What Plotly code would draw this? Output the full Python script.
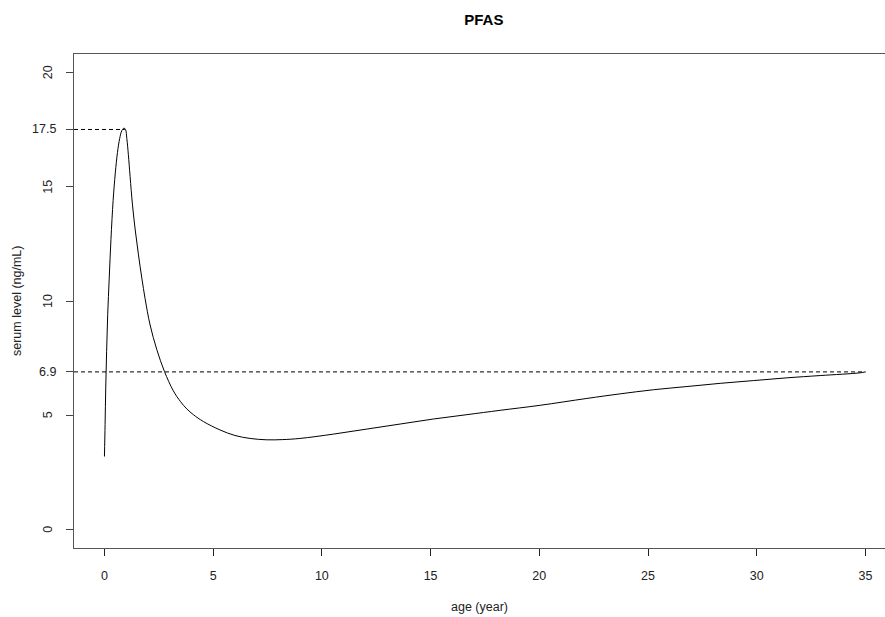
import plotly.graph_objects as go

# Serum PFAS level by age (years)
age = [0.00, 0.03, 0.06, 0.10, 0.15, 0.22, 0.30, 0.40, 0.50, 0.60, 0.70, 0.80,
       0.90, 0.97, 1.03, 1.10, 1.18, 1.29, 1.41, 1.56, 1.72, 1.87, 2.10, 2.41,
       2.76, 3.17, 3.50, 3.79, 4.09, 4.55, 5.32, 6.00, 6.70, 7.47, 8.20, 8.99,
       10.53, 12.07, 13.60, 15.13, 16.67, 18.20, 20.04, 22.19, 23.72, 25.25,
       26.79, 28.32, 29.85, 31.39, 32.92, 34.76, 35.00]
serum = [3.2, 4.6, 6.2, 7.8, 9.4, 11.0, 12.7, 14.4, 15.6, 16.5, 17.1, 17.45,
         17.56, 17.5, 17.1, 16.4, 15.44, 14.2, 13.15, 12.05, 11.0, 10.1, 8.95, 7.87,
         6.92, 6.07, 5.6, 5.28, 5.03, 4.73, 4.36, 4.12, 3.99, 3.93, 3.94, 3.99,
         4.18, 4.40, 4.62, 4.84, 5.03, 5.22, 5.44, 5.74, 5.94, 6.12,
         6.26, 6.40, 6.52, 6.64, 6.74, 6.86, 6.9]

peak_age = 0.94
peak_level = 17.5
final_age = 35.0
final_level = 6.9

x_ticks = [0, 5, 10, 15, 20, 25, 30, 35]
y_ticks = [0, 5, 10, 15, 20]
y_marks = [peak_level, final_level]

FONT = "Liberation Sans, Arial, sans-serif"
x_min = -1.4

fig = go.Figure()

# reference levels
fig.add_trace(go.Scatter(x=[x_min, peak_age], y=[peak_level, peak_level], mode="lines",
                         line=dict(color="black", width=1, dash="4px,3px"),
                         hoverinfo="skip", showlegend=False))
fig.add_trace(go.Scatter(x=[x_min, final_age], y=[final_level, final_level], mode="lines",
                         line=dict(color="black", width=1, dash="4px,3px"),
                         hoverinfo="skip", showlegend=False))

# serum curve
fig.add_trace(go.Scatter(x=age, y=serum, mode="lines",
                         line=dict(color="black", width=1, shape="spline", smoothing=1.0),
                         showlegend=False))

annotations = []
for v in y_ticks:
    annotations.append(dict(x=0, xref="paper", y=v, yref="y", text=str(v),
                            showarrow=False, textangle=-90, xanchor="center",
                            yanchor="middle", xshift=-26,
                            font=dict(family=FONT, size=12.5, color="#222")))
for v in y_marks:
    annotations.append(dict(x=0, xref="paper", y=v, yref="y", text=str(v),
                            showarrow=False, xanchor="right", yanchor="middle",
                            xshift=-16, font=dict(family=FONT, size=12.5, color="#222")))
annotations.append(dict(x=0, xref="paper", y=0.5, yref="paper", text="serum level (ng/mL)",
                        showarrow=False, textangle=-90, xanchor="center", yanchor="middle",
                        xshift=-57, font=dict(family=FONT, size=12.5, color="#222")))
annotations.append(dict(x=0.5, xref="paper", y=0, yref="paper", text="age (year)",
                        showarrow=False, xanchor="center", yanchor="middle",
                        yshift=-59, font=dict(family=FONT, size=12.5, color="#222")))

fig.update_layout(
    width=885, height=617,
    margin=dict(l=74, r=0, t=54, b=69),
    paper_bgcolor="white", plot_bgcolor="white",
    title=dict(text="<b>PFAS</b>", x=0.5467, xanchor="center", y=1 - 20 / 617, yanchor="middle",
               font=dict(family=FONT, size=15, color="black")),
    xaxis=dict(range=[x_min, 35.9], tickvals=x_ticks, ticktext=[str(t) for t in x_ticks],
               showgrid=False, zeroline=False, showline=True, mirror=True,
               linecolor="#555", linewidth=1, ticks="outside", ticklen=7,
               tickcolor="#222", tickwidth=1, ticklabelstandoff=9,
               tickfont=dict(family=FONT, size=12.5, color="#222")),
    yaxis=dict(range=[-0.8, 20.8], tickvals=y_ticks + y_marks, showticklabels=False,
               showgrid=False, zeroline=False, showline=True, mirror=False,
               linecolor="#555", linewidth=1, ticks="outside", ticklen=7,
               tickcolor="#444", tickwidth=1),
    annotations=annotations,
)

fig.write_html("out.html")
